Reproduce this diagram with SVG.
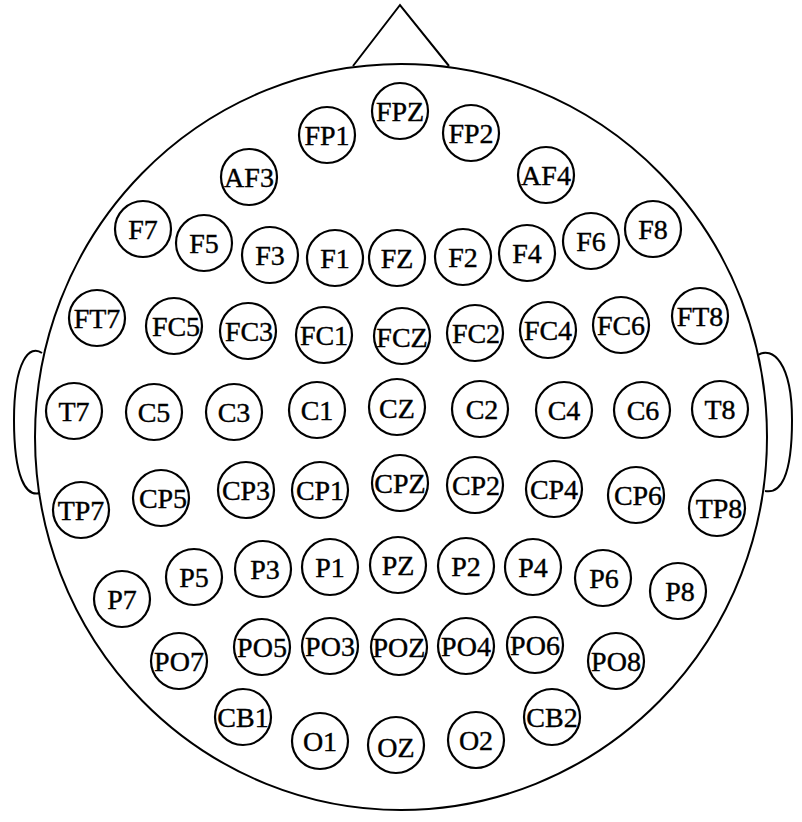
<svg xmlns="http://www.w3.org/2000/svg" width="802" height="822" viewBox="0 0 802 822">
<style>
.ln{fill:none;stroke:#000;stroke-width:2}
.el circle{fill:#fff;stroke:#000;stroke-width:2.2}
.el text{font-family:"Liberation Serif","Times New Roman",serif;font-size:28px;text-anchor:middle;fill:#000;stroke:#000;stroke-width:0.4}
</style>
<rect width="802" height="822" fill="#fff"/>
<g id="head">
<polyline class="ln" points="353,66 400,5 449,66"/>
<ellipse class="ln" cx="401" cy="437" rx="366" ry="373"/>
<path class="ln" d="M42,353 C30,344 14,360 14,420 C14,478 26,497 40,493"/>
<path class="ln" d="M758,355 C772,346 792,362 792,420 C792,478 780,494 765,491"/>
</g>
<g id="connectors"></g>
<g class="el">
<g id="FPZ"><circle cx="400" cy="111" r="28"/><text x="400" y="120.5">FPZ</text></g>
<g id="FP1"><circle cx="327" cy="135" r="28"/><text x="327" y="144.5">FP1</text></g>
<g id="FP2"><circle cx="471" cy="133" r="28"/><text x="471" y="142.5">FP2</text></g>
<g id="AF3"><circle cx="249" cy="177" r="28"/><text x="249" y="186.5">AF3</text></g>
<g id="AF4"><circle cx="546" cy="175" r="28"/><text x="546" y="184.5">AF4</text></g>
<g id="F7"><circle cx="143" cy="229" r="28"/><text x="143" y="238.5">F7</text></g>
<g id="F5"><circle cx="204" cy="243" r="28"/><text x="204" y="252.5">F5</text></g>
<g id="F3"><circle cx="270" cy="255" r="28"/><text x="270" y="264.5">F3</text></g>
<g id="F1"><circle cx="335" cy="258" r="28"/><text x="335" y="267.5">F1</text></g>
<g id="FZ"><circle cx="397" cy="258" r="28"/><text x="397" y="267.5">FZ</text></g>
<g id="F2"><circle cx="463" cy="257" r="28"/><text x="463" y="266.5">F2</text></g>
<g id="F4"><circle cx="527" cy="253" r="28"/><text x="527" y="262.5">F4</text></g>
<g id="F6"><circle cx="591" cy="241" r="28"/><text x="591" y="250.5">F6</text></g>
<g id="F8"><circle cx="653" cy="229" r="28"/><text x="653" y="238.5">F8</text></g>
<g id="FT7"><circle cx="97" cy="318" r="28"/><text x="97" y="327.5">FT7</text></g>
<g id="FC5"><circle cx="174" cy="326" r="28"/><text x="176" y="335.5">FC5</text></g>
<g id="FC3"><circle cx="248" cy="331" r="28"/><text x="249" y="340.5">FC3</text></g>
<g id="FC1"><circle cx="324" cy="335" r="28"/><text x="324" y="344.5">FC1</text></g>
<g id="FCZ"><circle cx="402" cy="336" r="28"/><text x="402" y="346.5">FCZ</text></g>
<g id="FC2"><circle cx="475" cy="333" r="28"/><text x="476" y="342.5">FC2</text></g>
<g id="FC4"><circle cx="548" cy="330" r="28"/><text x="548" y="339.5">FC4</text></g>
<g id="FC6"><circle cx="621" cy="325" r="28"/><text x="621" y="334.5">FC6</text></g>
<g id="FT8"><circle cx="700" cy="316" r="28"/><text x="700" y="325.5">FT8</text></g>
<g id="T7"><circle cx="74" cy="411" r="28"/><text x="74" y="420.5">T7</text></g>
<g id="C5"><circle cx="154" cy="412" r="28"/><text x="154" y="421.5">C5</text></g>
<g id="C3"><circle cx="234" cy="412" r="28"/><text x="234" y="421.5">C3</text></g>
<g id="C1"><circle cx="317" cy="410" r="28"/><text x="317" y="419.5">C1</text></g>
<g id="CZ"><circle cx="397" cy="407" r="28"/><text x="397" y="417.5">CZ</text></g>
<g id="C2"><circle cx="480" cy="409" r="28"/><text x="482" y="418.5">C2</text></g>
<g id="C4"><circle cx="564" cy="410" r="28"/><text x="564" y="419.5">C4</text></g>
<g id="C6"><circle cx="642" cy="410" r="28"/><text x="643" y="419.5">C6</text></g>
<g id="T8"><circle cx="720" cy="409" r="28"/><text x="720" y="418.5">T8</text></g>
<g id="TP7"><circle cx="81" cy="510" r="28"/><text x="81" y="519.5">TP7</text></g>
<g id="CP5"><circle cx="161" cy="498" r="28"/><text x="163" y="507.5">CP5</text></g>
<g id="CP3"><circle cx="246" cy="490" r="28"/><text x="246" y="499.5">CP3</text></g>
<g id="CP1"><circle cx="320" cy="490" r="28"/><text x="320" y="499.5">CP1</text></g>
<g id="CPZ"><circle cx="400" cy="483" r="28"/><text x="400" y="492.5">CPZ</text></g>
<g id="CP2"><circle cx="475" cy="485" r="28"/><text x="476" y="494.5">CP2</text></g>
<g id="CP4"><circle cx="554" cy="489" r="28"/><text x="554" y="498.5">CP4</text></g>
<g id="CP6"><circle cx="636" cy="495" r="28"/><text x="638" y="504.5">CP6</text></g>
<g id="TP8"><circle cx="717" cy="508" r="28"/><text x="719" y="517.5">TP8</text></g>
<g id="P7"><circle cx="122" cy="599" r="28"/><text x="122" y="608.5">P7</text></g>
<g id="P5"><circle cx="194" cy="577" r="28"/><text x="194" y="586.5">P5</text></g>
<g id="P3"><circle cx="263" cy="569" r="28"/><text x="265" y="578.5">P3</text></g>
<g id="P1"><circle cx="330" cy="567" r="28"/><text x="330" y="576.5">P1</text></g>
<g id="PZ"><circle cx="398" cy="565" r="28"/><text x="398" y="574.5">PZ</text></g>
<g id="P2"><circle cx="466" cy="566" r="28"/><text x="466" y="575.5">P2</text></g>
<g id="P4"><circle cx="533" cy="567" r="28"/><text x="533" y="576.5">P4</text></g>
<g id="P6"><circle cx="603" cy="578" r="28"/><text x="604" y="587.5">P6</text></g>
<g id="P8"><circle cx="678" cy="591" r="28"/><text x="680" y="600.5">P8</text></g>
<g id="PO7"><circle cx="179" cy="661" r="28"/><text x="179" y="670.5">PO7</text></g>
<g id="PO5"><circle cx="262" cy="647" r="28"/><text x="262" y="656.5">PO5</text></g>
<g id="PO3"><circle cx="330" cy="646" r="28"/><text x="330" y="655.5">PO3</text></g>
<g id="POZ"><circle cx="399" cy="647" r="28"/><text x="399" y="656.5">POZ</text></g>
<g id="PO4"><circle cx="466" cy="646" r="28"/><text x="466" y="655.5">PO4</text></g>
<g id="PO6"><circle cx="535" cy="645" r="28"/><text x="535" y="654.5">PO6</text></g>
<g id="PO8"><circle cx="616" cy="661" r="28"/><text x="616" y="670.5">PO8</text></g>
<g id="CB1"><circle cx="243" cy="717" r="28"/><text x="243" y="726.5">CB1</text></g>
<g id="O1"><circle cx="320" cy="741" r="28"/><text x="320" y="750.5">O1</text></g>
<g id="OZ"><circle cx="396" cy="745" r="28"/><text x="396" y="756.5">OZ</text></g>
<g id="O2"><circle cx="476" cy="740" r="28"/><text x="476" y="749.5">O2</text></g>
<g id="CB2"><circle cx="552" cy="717" r="28"/><text x="552" y="726.5">CB2</text></g>
</g>
</svg>
